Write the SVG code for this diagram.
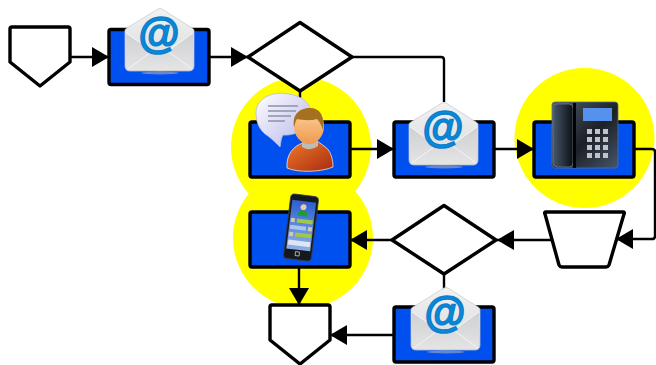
<svg xmlns="http://www.w3.org/2000/svg" xmlns:xlink="http://www.w3.org/1999/xlink" width="656" height="365" viewBox="0 0 656 365">
<style>
.s{fill:#fff;stroke:#000;stroke-width:3.4;stroke-linejoin:round}
.b{fill:#0050ef;stroke:#000;stroke-width:3.4;stroke-linejoin:round}
.c{fill:none;stroke:#000;stroke-width:2.4;stroke-linejoin:round}
.y{fill:#ff0}
.at{font-family:"Liberation Sans",Arial,sans-serif;font-weight:700;font-size:42px;fill:#0a8ad6;text-anchor:middle;stroke:#0a7fd0;stroke-width:1.5}
.k{fill:#bfc4c8}
.g{fill:#9dc84a}
.l{fill:#a9c7ee}
</style>
<defs>
<marker id="a" markerUnits="userSpaceOnUse" markerWidth="18" markerHeight="22" refX="17" refY="10.500" orient="auto"><path d="M0 0.500L17 10.500L0 20.500Z" fill="#000"/></marker>
<linearGradient id="e1" x1="0" y1="0" x2="0" y2="1"><stop offset="0" stop-color="#f2f2f2"/><stop offset="1" stop-color="#d8d9db"/></linearGradient>
<linearGradient id="e2" x1="0" y1="0" x2="0" y2="1"><stop offset="0" stop-color="#cfd0d3"/><stop offset="1" stop-color="#e4e4e5"/></linearGradient>
<linearGradient id="sk" x1="0" y1="0" x2="0" y2="1"><stop offset="0" stop-color="#fcd4a0"/><stop offset="1" stop-color="#f0994f"/></linearGradient>
<linearGradient id="sh" x1="0" y1="0" x2="1" y2="1"><stop offset="0" stop-color="#ee7a2a"/><stop offset="1" stop-color="#a92b10"/></linearGradient>
<linearGradient id="bu" x1="0" y1="0" x2="1" y2="1"><stop offset="0" stop-color="#fff"/><stop offset="1" stop-color="#b4b4ea"/></linearGradient>
<linearGradient id="ph" x1="0" y1="0" x2="1" y2="1"><stop offset="0" stop-color="#4d5c6e"/><stop offset=".55" stop-color="#1c2026"/><stop offset="1" stop-color="#46566a"/></linearGradient>
<linearGradient id="hs" x1="0" y1="0" x2="1" y2="0"><stop offset="0" stop-color="#47586b"/><stop offset="1" stop-color="#0c0f13"/></linearGradient>
<linearGradient id="sc" x1="0" y1="0" x2="0" y2="1"><stop offset="0" stop-color="#2d5fd0"/><stop offset="1" stop-color="#8fb0e8"/></linearGradient>
<g id="env">
<ellipse cx="35" cy="65" rx="19" ry="1.400" fill="#7f93c4" opacity=".8"/>
<path d="M0 22.500Q0 21 2 20L33 1Q35 0 37 1L67 20Q69 21 69 22.500L69 58Q69 63 64 63L5 63Q0 63 0 58Z" fill="url(#e1)" stroke="#c6c7ca" stroke-width=".7"/>
<path d="M1 25L30 45Q35 48 40 45L68 25L68 58Q68 62 64 62L5 62Q1 62 1 58Z" fill="url(#e2)"/>
<path d="M3 61L29 42M67 61L41 42M1 25L30 45Q35 48 40 45L68 25" stroke="#f6f6f6" stroke-width=".9" fill="none"/>
<text class="at" x="34" y="40">@</text>
</g>
</defs>

<circle class="y" cx="301" cy="147" r="70"/>
<circle class="y" cx="303" cy="238" r="70"/>
<circle class="y" cx="584.500" cy="138" r="70"/>

<g id="connectors">
<path class="c" d="M70 57L109 57" marker-end="url(#a)"/>
<path class="c" d="M209 57L248 57" marker-end="url(#a)"/>
<path class="c" d="M352 57L441 57Q444 57 444 60L444 102"/>
<path class="c" d="M300 91L300 122"/>
<path class="c" d="M350 149L394 149" marker-end="url(#a)"/>
<path class="c" d="M494 149L534 149" marker-end="url(#a)"/>
<path class="c" d="M634 149L652 149Q655 149 655 152L655 236Q655 239 652 239L616 239" marker-end="url(#a)"/>
<path class="c" d="M551 240L497 240" marker-end="url(#a)"/>
<path class="c" d="M392 240L350 240" marker-end="url(#a)"/>
<path class="c" d="M299 267L299 305" marker-end="url(#a)"/>
<path class="c" d="M444 274L444 307"/>
<path class="c" d="M394 335L330 335" marker-end="url(#a)"/>
</g>

<g id="offpage1"><path class="s" d="M10 29Q10 27 12 27L68 27Q70 27 70 29L70 62L40 86L10 62Z"/></g>

<g id="task1"><rect class="b" x="109" y="29.500" width="100" height="55" rx="2"/><use xlink:href="#env" href="#env" x="125" y="8"/></g>

<g id="gateway1"><path class="s" d="M248 57L300 22.500L352 57L300 91Z"/></g>

<g id="task2"><rect class="b" x="250" y="122" width="100" height="55" rx="2"/>
<path d="M289 94C274 91 256 97 256 113C256 124 261 132 268 136C272 139 276 143 280 147C281 142 281 138 283 135C296 136 310 128 311 114C311 103 302 96 289 94Z" fill="url(#bu)" stroke="#b7bbd8" stroke-width=".8"/>
<path d="M268 106L298 106M268 111L296 111M268 116L291 116M268 121L285 121" stroke="#8f93a6" stroke-width="1.300"/>
<path d="M287 168C286 155 293 146 303 143L317 141L324 146C331 150 333 160 333 167C322 172 298 173 287 168Z" fill="url(#sh)" stroke="#f4e6dc" stroke-width=".8"/>
<path d="M302 140L302 147Q310 152 318 146L318 138Z" fill="#bdbdb8"/>
<ellipse cx="309" cy="126" rx="15" ry="18" fill="url(#sk)"/>
<path d="M294 127C292 114 300 108 310 108C320 108 325 116 323 130C321 125 320 122 317 119C311 121 302 120 297 119C295 122 295 125 294 127Z" fill="#a5701f"/>
</g>

<g id="task3"><rect class="b" x="394" y="122" width="100" height="55" rx="2"/><use xlink:href="#env" href="#env" x="409" y="102"/></g>

<g id="task4"><rect class="b" x="534" y="122" width="100" height="55" rx="2"/>
<rect x="552" y="102" width="66" height="66" rx="3" fill="url(#ph)" stroke="#5d6d80" stroke-width=".8"/>
<rect x="553" y="104" width="20" height="63" rx="4" fill="url(#hs)" stroke="#6a7a8c" stroke-width=".8"/>
<rect x="573" y="103" width="3" height="65" fill="#000"/>
<rect x="583" y="108" width="29" height="13" fill="#5592ee"/>
<g class="k">
<rect x="587" y="129" width="5" height="5"/><rect x="595" y="129" width="5" height="5"/><rect x="603" y="129" width="5" height="5"/>
<rect x="587" y="137" width="5" height="5"/><rect x="595" y="137" width="5" height="5"/><rect x="603" y="137" width="5" height="5"/>
<rect x="587" y="145" width="5" height="5"/><rect x="595" y="145" width="5" height="5"/><rect x="603" y="145" width="5" height="5"/>
<rect x="587" y="153" width="5" height="5"/><rect x="595" y="153" width="5" height="5"/><rect x="603" y="153" width="5" height="5"/>
</g></g>

<g id="manual1"><path class="s" d="M545 214Q544 212 546 212L623 212Q625 212 624 214L609 265Q608 267 606 267L562 267Q560 267 559 265Z"/></g>

<g id="gateway2"><path class="s" d="M392 240L444 205.500L496 240L444 274Z"/></g>

<g id="task5"><rect class="b" x="250" y="212" width="100" height="55" rx="2"/>
<g transform="rotate(7 300.500 227.500)">
<rect x="287" y="195" width="28" height="65" rx="4" fill="#15181c" stroke="#3a3f46" stroke-width=".8"/>
<rect x="289" y="201" width="24" height="49" fill="url(#sc)"/>
<circle cx="301" cy="207" r="3" fill="#f0c9a0"/>
<path d="M296 216Q296 210 301 210Q306 210 306 216Z" fill="#1f9a3c"/>
<rect class="g" x="296" y="219" width="16" height="4"/>
<rect x="290" y="219" width="4" height="4" fill="#d9c9a8"/>
<rect class="l" x="290" y="226" width="16" height="4"/>
<rect x="308" y="226" width="4" height="4" fill="#d9c9a8"/>
<rect class="g" x="296" y="233" width="16" height="4"/>
<rect x="290" y="233" width="4" height="4" fill="#d9c9a8"/>
<rect x="290" y="241" width="22" height="5" fill="#dfe6ee"/>
<rect x="298.500" y="252" width="4" height="4" fill="none" stroke="#ddd" stroke-width=".7"/>
</g></g>

<g id="task6"><rect class="b" x="394" y="307" width="100" height="55" rx="2"/><use xlink:href="#env" href="#env" x="411" y="287"/></g>

<g id="offpage2"><path class="s" d="M270 307Q270 305 272 305L328 305Q330 305 330 307L330 340L300 364L270 340Z"/></g>
</svg>
